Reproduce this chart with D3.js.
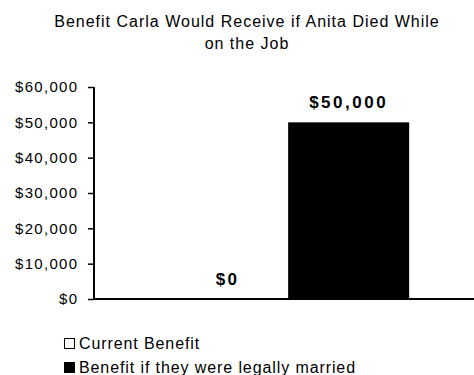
<!DOCTYPE html>
<html>
<head>
<meta charset="utf-8">
<script src="https://cdn.jsdelivr.net/npm/d3@7/dist/d3.min.js"></script>
<style>
  html, body { margin: 0; padding: 0; background: #fff; }
  svg { display: block; font-family: "Liberation Sans", Arial, sans-serif; }
</style>
</head>
<body>
<svg id="chart" width="474" height="375"></svg>
<script>
// Chart data
const titleLines = ["Benefit Carla Would Receive if Anita Died While", "on the Job"];
const categories = ["Benefit"];
const seriesNames = ["Current Benefit", "Benefit if they were legally married"];
const seriesValues = [0, 50000];
const seriesFills = ["#ffffff", "#000000"];
const yTicks = [0, 10000, 20000, 30000, 40000, 50000, 60000];

const svg = d3.select("#chart");

const plot = { left: 94, right: 474, top: 87, bottom: 299 };

const y = d3.scaleLinear().domain([0, 60000]).range([plot.bottom, plot.top]);
const x0 = d3.scaleBand().domain(categories).range([plot.left, plot.right])
  .paddingInner(0).paddingOuter(0.285).align(0.53);
const x1 = d3.scaleBand().domain(seriesNames).range([0, x0.bandwidth()]).padding(0);

const money = v => "$" + d3.format(",")(v);

// Title
svg.append("g").selectAll("text").data(titleLines).join("text")
  .attr("x", 247)
  .attr("y", (d, i) => 27 + i * 22)
  .attr("text-anchor", "middle")
  .attr("font-size", 16)
  .attr("letter-spacing", 1)
  .attr("fill", "#000")
  .text(d => d);

// Bars
const group = svg.append("g")
  .selectAll("g").data(categories).join("g")
  .attr("transform", d => `translate(${x0(d)},0)`);

const items = seriesNames.map((s, i) => ({ series: s, value: seriesValues[i], fill: seriesFills[i] }));

group.selectAll("rect").data(items).join("rect")
  .attr("x", d => x1(d.series))
  .attr("y", d => y(d.value))
  .attr("width", x1.bandwidth())
  .attr("height", d => y(0) - y(d.value))
  .attr("fill", d => d.fill);

// Value labels
group.selectAll("text.value").data(items).join("text")
  .attr("class", "value")
  .attr("x", d => x1(d.series) + x1.bandwidth() / 2)
  .attr("y", d => y(d.value) - 14.5)
  .attr("text-anchor", "middle")
  .attr("font-size", 17)
  .attr("font-weight", "bold")
  .attr("letter-spacing", 2.5)
  .attr("fill", "#000")
  .text(d => money(d.value));

// Y axis
const yAxis = svg.append("g")
  .attr("transform", `translate(${plot.left},0)`)
  .call(d3.axisLeft(y).tickValues(yTicks).tickFormat(money).tickSize(6).tickPadding(11));
yAxis.select(".domain").attr("stroke", "#000").attr("stroke-width", 2)
  .attr("d", `M0,${plot.top}V${plot.bottom}`);
yAxis.selectAll(".tick line").attr("stroke", "#000").attr("stroke-width", 1.5);
yAxis.selectAll(".tick text")
  .attr("font-family", "Liberation Sans, Arial, sans-serif")
  .attr("font-size", 15)
  .attr("letter-spacing", 1.3)
  .attr("dx", 1.3)
  .attr("fill", "#000");

// Category baseline
svg.append("line")
  .attr("x1", plot.left).attr("x2", plot.right)
  .attr("y1", y(0)).attr("y2", y(0))
  .attr("stroke", "#000").attr("stroke-width", 2);

// Legend
const legend = svg.append("g").selectAll("g").data(items).join("g")
  .attr("transform", (d, i) => `translate(64,${338 + i * 24})`);
legend.append("rect")
  .attr("x", 0.5).attr("y", 0.5)
  .attr("width", 10).attr("height", 10)
  .attr("fill", d => d.fill)
  .attr("stroke", "#000").attr("stroke-width", 1);
legend.append("text")
  .attr("x", 15).attr("y", 11)
  .attr("font-size", 16)
  .attr("letter-spacing", 0.9)
  .attr("fill", "#000")
  .text(d => d.series);
</script>
</body>
</html>
